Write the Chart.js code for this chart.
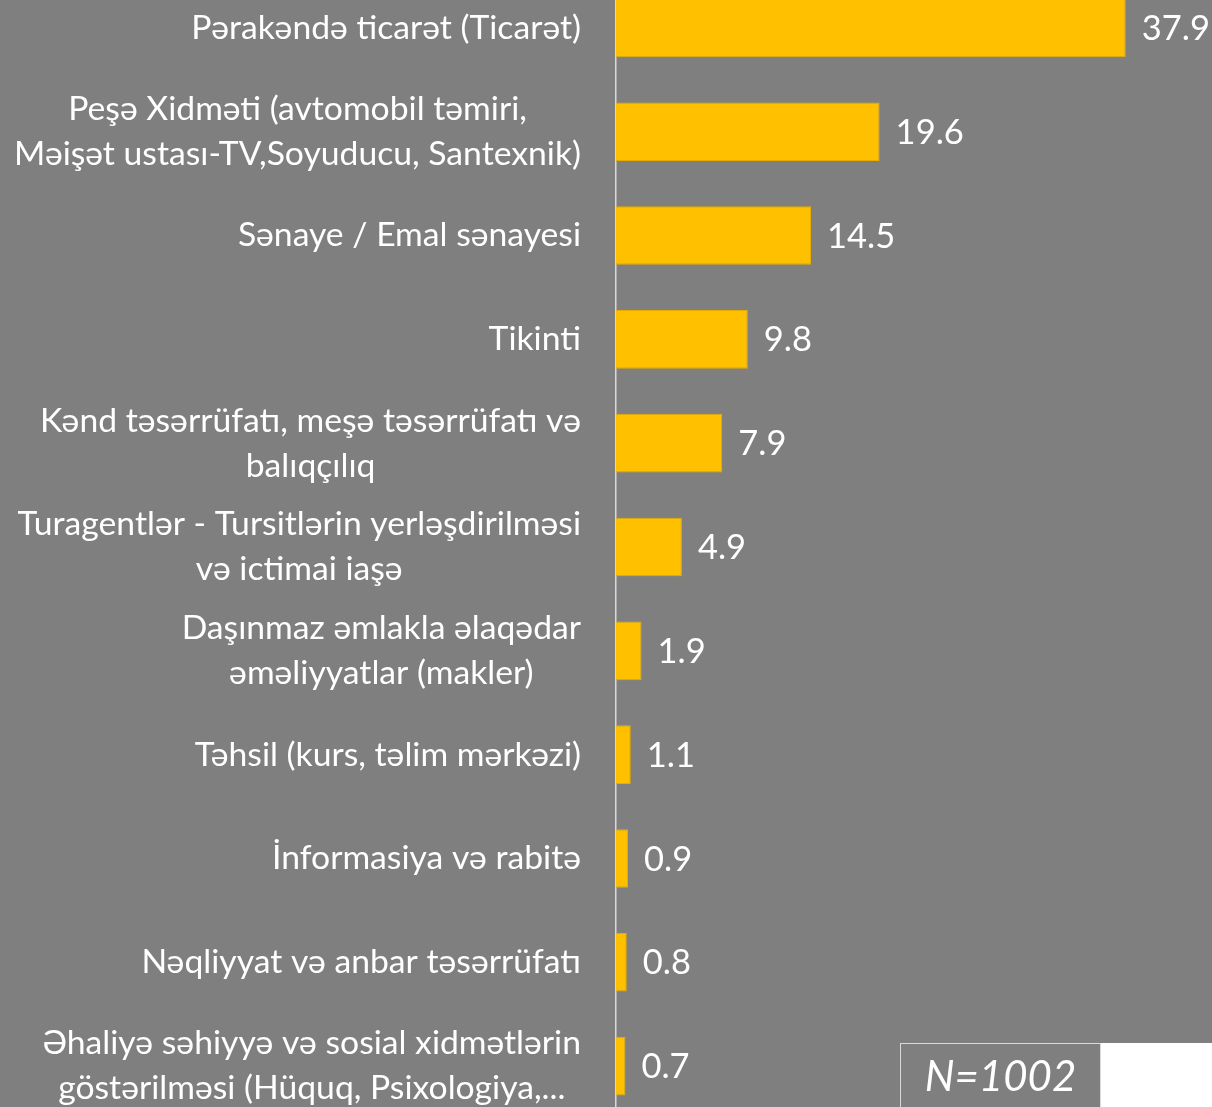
<!DOCTYPE html>
<html>
<head>
<meta charset="utf-8">
<script src="https://cdn.jsdelivr.net/npm/chart.js@4.4.1/dist/chart.umd.min.js"></script>
<style>
  html, body { margin: 0; padding: 0; background: #7f7f7f; }
  #wrap { position: relative; width: 1212px; height: 1107px; overflow: hidden; background: #7f7f7f; }
  #holder { position: absolute; left: 0; top: -24px; width: 1212px; height: 1142px; }
  #nbox {
    position: absolute; left: 900px; top: 1043px; width: 199px; height: 90px;
    border: 1px solid #d9d9d9; color: #fff; font-family: Lato, sans-serif;
    font-style: italic; font-size: 42px; text-align: center; line-height: 62px;
  }
  #whitebox { position: absolute; left: 1101px; top: 1043px; width: 111px; height: 64px; background: #fff; }
</style>
</head>
<body>
<div id="wrap">
  <div id="holder"><canvas id="chart"></canvas></div>
  <div id="nbox">N=1002</div>
  <div id="whitebox"></div>
</div>
<script>
const categories = [
  ['Pərakəndə ticarət (Ticarət)'],
  ['Peşə Xidməti (avtomobil təmiri,', 'Məişət ustası-TV,Soyuducu, Santexnik)'],
  ['Sənaye / Emal sənayesi'],
  ['Tikinti'],
  ['Kənd təsərrüfatı, meşə təsərrüfatı və', 'balıqçılıq'],
  ['Turagentlər - Tursitlərin yerləşdirilməsi', 'və ictimai iaşə'],
  ['Daşınmaz əmlakla əlaqədar', 'əməliyyatlar (makler)'],
  ['Təhsil (kurs, təlim mərkəzi)'],
  ['İnformasiya və rabitə'],
  ['Nəqliyyat və anbar təsərrüfatı'],
  ['Əhaliyə səhiyyə və sosial xidmətlərin', 'göstərilməsi (Hüquq, Psixologiya,...']
];
const values = [37.9, 19.6, 14.5, 9.8, 7.9, 4.9, 1.9, 1.1, 0.9, 0.8, 0.7];

const FONT = 'Lato, "Open Sans", sans-serif';

// labels drawn by hand: each block right aligned, lines centered inside it
const labelPlugin = {
  id: 'labels',
  afterDraw(chart) {
    const ctx = chart.ctx;
    const yScale = chart.scales.y;
    const right = chart.chartArea.left - 35;
    ctx.save();
    ctx.fillStyle = '#ffffff';
    ctx.font = '33.7px ' + FONT;
    ctx.textBaseline = 'middle';
    ctx.textAlign = 'center';
    categories.forEach((lines, i) => {
      const cy = yScale.getPixelForTick(i);
      const w = Math.max(...lines.map(l => ctx.measureText(l).width));
      const cx = right - w / 2;
      lines.forEach((l, k) => {
        ctx.fillText(l, cx, cy + (k - (lines.length - 1) / 2) * 45);
      });
    });

    // value labels
    ctx.font = '34.5px ' + FONT;
    ctx.textAlign = 'left';
    const meta = chart.getDatasetMeta(0);
    meta.data.forEach((bar, i) => {
      ctx.fillText(values[i].toFixed(1), bar.x + 16, bar.y + 1);
    });
    ctx.restore();
  }
};

new Chart(document.getElementById('chart'), {
  type: 'bar',
  data: {
    labels: categories,
    datasets: [{
      data: values,
      backgroundColor: '#ffc000',
      borderColor: '#e6ad00',
      borderWidth: 1,
      categoryPercentage: 1,
      barPercentage: 0.565
    }]
  },
  options: {
    indexAxis: 'y',
    responsive: true,
    maintainAspectRatio: false,
    animation: false,
    layout: { padding: { left: 0, right: 58, top: 0, bottom: 0 } },
    plugins: {
      legend: { display: false },
      tooltip: { enabled: false }
    },
    scales: {
      x: {
        display: false,
        min: 0,
        max: 40
      },
      y: {
        grid: { display: false },
        border: { display: true, color: '#d9d9d9', width: 1.5 },
        ticks: { display: false },
        afterFit(scale) { scale.width = 616; }
      }
    }
  },
  plugins: [labelPlugin]
});
</script>
</body>
</html>
